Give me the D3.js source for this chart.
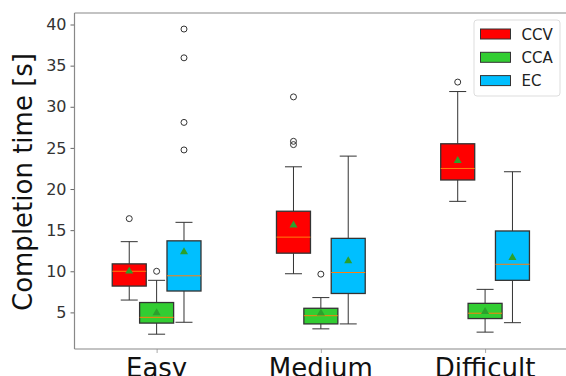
<!DOCTYPE html>
<html>
<head>
<meta charset="utf-8">
<script src="https://cdn.jsdelivr.net/npm/d3@7"></script>
<style>
  body { margin: 0; background: #fff; }
  text { font-family: "DejaVu Sans", sans-serif; }
</style>
</head>
<body>
<div id="chart"></div>
<script>
// categories and series
const categories = ["Easy", "Medium", "Difficult"];
const seriesNames = ["CCV", "CCA", "EC"];
const seriesColors = ["#ff0000", "#32cd32", "#00bfff"];

// box stats per category: [lower whisker, Q1, median, Q3, upper whisker]
const ccvBox = [[6.5, 8.2, 10.0, 10.9, 13.6], [9.7, 12.2, 14.15, 17.3, 22.7], [18.5, 21.1, 22.5, 25.5, 31.85]];
const ccaBox = [[2.35, 3.7, 4.4, 6.2, 8.9], [3.0, 3.6, 4.6, 5.5, 6.8], [2.6, 4.25, 4.9, 6.1, 7.8]];
const ecBox = [[3.8, 7.6, 9.45, 13.7, 15.95], [3.6, 7.3, 9.85, 14.0, 24.0], [3.75, 8.9, 10.85, 14.9, 22.1]];

// means
const ccvMean = [10.0, 15.6, 23.45];
const ccaMean = [4.95, 4.9, 5.1];
const ecMean = [12.35, 11.25, 11.65];

// outliers
const ccvOut = [[16.4], [31.2, 25.8, 25.4], [33.0]];
const ccaOut = [[10.0], [9.65], []];
const ecOut = [[39.45, 35.95, 28.1, 24.75], [], []];

const yTicks = [5, 10, 15, 20, 25, 30, 35, 40];

const allBoxes = [ccvBox, ccaBox, ecBox];
const allMeans = [ccvMean, ccaMean, ecMean];
const allOut = [ccvOut, ccaOut, ecOut];

const width = 566, height = 376;
const margin = { top: 13, bottom: 349, left: 74.5 };

const svg = d3.select("#chart").append("svg")
    .attr("width", width)
    .attr("height", height);

const x = d3.scaleLinear().domain([0.5, 3.5]).range([margin.left, 567.2]);
const y = d3.scaleLinear().domain([0.55, 41.4]).range([margin.bottom, margin.top]);

const offset = 1 / 6;     // group offset in category units
const boxW = x(0.207) - x(0);
const capW = boxW / 2;

// axes
const yAxis = svg.append("g")
    .attr("transform", `translate(${margin.left},0)`)
    .call(d3.axisLeft(y).tickValues(yTicks).tickSize(4).tickPadding(4));
yAxis.select(".domain").remove();
yAxis.selectAll(".tick line").attr("stroke", "#666");
yAxis.selectAll(".tick text")
    .attr("font-size", "16px")
    .attr("fill", "#333")
    .attr("font-family", "DejaVu Sans, sans-serif");

const xAxis = svg.append("g")
    .attr("transform", `translate(0,${margin.bottom})`)
    .call(d3.axisBottom(x).tickValues([1, 2, 3]).tickSize(4).tickFormat(""));
xAxis.select(".domain").remove();
xAxis.selectAll(".tick line").attr("stroke", "#aaa");

categories.forEach((c, i) => {
    svg.append("text")
        .attr("x", x(i + 1))
        .attr("y", 377)
        .attr("text-anchor", "middle")
        .attr("font-size", "26px")
        .attr("fill", "#111")
        .text(c);
});

// spines
svg.append("line").attr("x1", margin.left).attr("x2", margin.left)
    .attr("y1", margin.top).attr("y2", margin.bottom)
    .attr("stroke", "#888").attr("stroke-width", 1.2);
svg.append("line").attr("x1", margin.left).attr("x2", width)
    .attr("y1", margin.bottom).attr("y2", margin.bottom)
    .attr("stroke", "#888").attr("stroke-width", 1.2);
svg.append("line").attr("x1", margin.left).attr("x2", width)
    .attr("y1", margin.top).attr("y2", margin.top)
    .attr("stroke", "#888").attr("stroke-width", 1.2);

// y label
svg.append("text")
    .attr("transform", "translate(32,182) rotate(-90)")
    .attr("text-anchor", "middle")
    .attr("font-size", "26px")
    .attr("fill", "#111")
    .text("Completion time [s]");

// boxes
seriesNames.forEach((s, si) => {
    const g = svg.append("g");
    allBoxes[si].forEach((b, ci) => {
        const cx = x(ci + 1 + (si - 1) * offset);
        const [lo, q1, med, q3, hi] = b;
        // whiskers
        g.append("line").attr("x1", cx).attr("x2", cx)
            .attr("y1", y(q1)).attr("y2", y(lo)).attr("stroke", "#333");
        g.append("line").attr("x1", cx).attr("x2", cx)
            .attr("y1", y(q3)).attr("y2", y(hi)).attr("stroke", "#333");
        g.append("line").attr("x1", cx - capW / 2).attr("x2", cx + capW / 2)
            .attr("y1", y(lo)).attr("y2", y(lo)).attr("stroke", "#333");
        g.append("line").attr("x1", cx - capW / 2).attr("x2", cx + capW / 2)
            .attr("y1", y(hi)).attr("y2", y(hi)).attr("stroke", "#333");
        // box
        g.append("rect")
            .attr("x", cx - boxW / 2)
            .attr("y", y(q3))
            .attr("width", boxW)
            .attr("height", y(q1) - y(q3))
            .attr("fill", seriesColors[si])
            .attr("stroke", "#333")
            .attr("stroke-width", 1.3);
        // median
        g.append("line").attr("x1", cx - boxW / 2).attr("x2", cx + boxW / 2)
            .attr("y1", y(med)).attr("y2", y(med))
            .attr("stroke", "#ff7f0e").attr("stroke-width", 1);
        // mean
        g.append("path")
            .attr("d", d3.symbol().type(d3.symbolTriangle).size(28)())
            .attr("transform", `translate(${cx},${y(allMeans[si][ci])})`)
            .attr("fill", "#2ca02c");
        // outliers
        allOut[si][ci].forEach(v => {
            g.append("circle")
                .attr("cx", cx).attr("cy", y(v)).attr("r", 3)
                .attr("fill", "none").attr("stroke", "#333").attr("stroke-width", 1);
        });
    });
});

// legend
const legend = svg.append("g");
legend.append("rect")
    .attr("x", 474).attr("y", 20).attr("width", 86).attr("height", 76)
    .attr("rx", 3).attr("fill", "#fff").attr("stroke", "#ddd");
seriesNames.forEach((s, i) => {
    const ly = 34 + i * 23.3;
    legend.append("rect")
        .attr("x", 480.5).attr("y", ly - 5).attr("width", 30).attr("height", 10)
        .attr("fill", seriesColors[i]).attr("stroke", "#333").attr("stroke-width", 1);
    legend.append("text")
        .attr("x", 521.5).attr("y", ly + 5.5)
        .attr("font-size", "15px")
        .attr("fill", "#222")
        .text(s);
});
</script>
</body>
</html>
